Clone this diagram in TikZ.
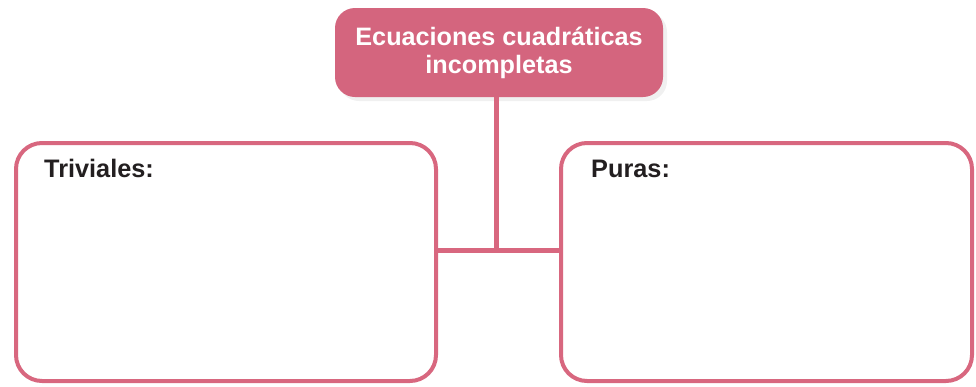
\documentclass[tikz,border=0pt]{standalone}
\usepackage{fontspec}
\setmainfont{Liberation Sans}
\usetikzlibrary{shadows}
\definecolor{rosa}{HTML}{D4657E}
\definecolor{rosaline}{HTML}{D8677F}
\definecolor{txt}{HTML}{231F20}
\begin{document}
\begin{tikzpicture}[x=1pt,y=1pt,
  titlebox/.style={rectangle, rounded corners=20pt, fill=rosa, draw=none,
    text=white, font=\bfseries\fontsize{25.2}{28}\selectfont, align=center,
    minimum width=328pt, minimum height=89pt, inner sep=0pt,
    drop shadow={shadow xshift=4pt, shadow yshift=-4pt, opacity=0.12, fill=gray}},
  panel/.style={rectangle, rounded corners=26pt, draw=rosaline, line width=4pt,
    fill=white, inner sep=0pt},
  label/.style={font=\bfseries\fontsize{25.3}{28}\selectfont, text=txt, inner sep=0pt, anchor=base west},
  conn/.style={draw=rosaline, line width=5pt}
]
\useasboundingbox (0,0) rectangle (976,-386);
\node[titlebox] (title) at (499,-52.5) {Ecuaciones cuadráticas\\incompletas};
\node[panel, minimum width=420pt, minimum height=238pt] (left) at (226,-262) {};
\node[panel, minimum width=411pt, minimum height=238pt] (right) at (766.5,-262) {};
\coordinate (j) at (496,-250);
\draw[conn] (title.south -| j) -- (j);
\draw[conn] (j -| left.east) -- (j -| right.west);
\node[label] (triv) at (44,-177) {Triviales:};
\node[label] (pur) at (591,-177) {Puras:};
\end{tikzpicture}
\end{document}
